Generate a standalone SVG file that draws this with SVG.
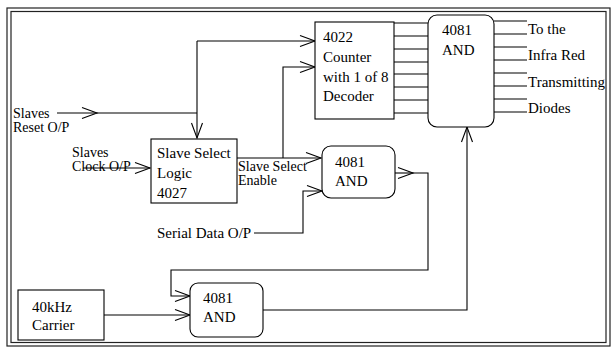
<svg xmlns="http://www.w3.org/2000/svg" width="613" height="348" viewBox="0 0 613 348">
<style>
  .box{fill:#fff;stroke:#000;stroke-width:1.1}
  .ln{fill:none;stroke:#000;stroke-width:1.1}
  .frame{fill:none;stroke:#222;stroke-width:1.2}
  text{font-family:"Liberation Serif","Times New Roman",serif;font-size:15px;fill:#000}
  .sm{font-size:14px}
</style>
<defs>
  <marker id="arr" viewBox="-16 -7 17 14" refX="0" refY="0" markerWidth="17" markerHeight="14" markerUnits="userSpaceOnUse" orient="auto" overflow="visible">
    <path d="M-15,-5.5 L0,0 L-15,5.5" fill="none" stroke="#000" stroke-width="1.1"/>
  </marker>
</defs>
<rect width="613" height="348" fill="#fff"/>
<g id="frame">
  <rect class="frame" x="7" y="8" width="603" height="338"/>
  <rect class="frame" x="11" y="11.5" width="595" height="331"/>
</g>
<g id="connectors">
  <path class="ln" d="M57,113 H97" marker-end="url(#arr)"/>
  <path class="ln" d="M97,113 H197"/>
  <path class="ln" d="M197,41 V138" marker-end="url(#arr)"/>
  <path class="ln" d="M197,41 H315" marker-end="url(#arr)"/>
  <path class="ln" d="M83,168 H150" marker-end="url(#arr)"/>
  <path class="ln" d="M237,158 H321" marker-end="url(#arr)"/>
  <path class="ln" d="M283,158 V67 H315" marker-end="url(#arr)"/>
  <path class="ln" d="M254,233 H303 V191 H322" marker-end="url(#arr)"/>
  <path class="ln" d="M395,173 H413" marker-end="url(#arr)"/>
  <path class="ln" d="M413,173 H428 V270 H171 V296 H190" marker-end="url(#arr)"/>
  <path class="ln" d="M104,315 H190" marker-end="url(#arr)"/>
  <path class="ln" d="M263,310 H467 V127" marker-end="url(#arr)"/>
  <path class="ln" d="M394,23 H428 M394,36 H428 M394,49 H428 M394,62 H428 M394,74 H428 M394,87 H428 M394,100 H428 M394,113 H428"/>
  <path class="ln" d="M494,21 H527 M494,34 H527 M494,47 H527 M494,60 H527 M494,73 H527 M494,86 H527 M494,99 H527 M494,112 H527"/>
</g>
<g id="slave-select-logic">
  <rect class="box" x="151" y="139" width="86" height="64"/>
  <text x="157" y="158">Slave Select</text>
  <text x="157" y="178">Logic</text>
  <text x="157" y="198">4027</text>
</g>
<g id="counter-4022">
  <rect class="box" x="315" y="22" width="79" height="97"/>
  <text x="323" y="42">4022</text>
  <text x="323" y="62">Counter</text>
  <text x="323" y="82">with 1 of 8</text>
  <text x="323" y="101">Decoder</text>
</g>
<g id="and-main">
  <rect class="box" x="428" y="15" width="66" height="112" rx="9"/>
  <text x="442" y="35">4081</text>
  <text x="442" y="55">AND</text>
</g>
<g id="and-enable">
  <rect class="box" x="322" y="146" width="73" height="52" rx="9"/>
  <text x="335" y="167">4081</text>
  <text x="335" y="186">AND</text>
</g>
<g id="and-carrier">
  <rect class="box" x="190" y="283" width="73" height="54" rx="8"/>
  <text x="203" y="303">4081</text>
  <text x="203" y="322">AND</text>
</g>
<g id="carrier">
  <rect class="box" x="18" y="290" width="86" height="50"/>
  <text x="32" y="312">40kHz</text>
  <text x="32" y="330">Carrier</text>
</g>
<g id="labels">
  <text class="sm" x="13" y="118">Slaves</text>
  <text class="sm" x="13" y="132">Reset O/P</text>
  <text class="sm" x="72" y="157">Slaves</text>
  <text class="sm" x="72" y="171">Clock O/P</text>
  <text class="sm" x="238" y="171">Slave Select</text>
  <text class="sm" x="238" y="185">Enable</text>
  <text x="157" y="238">Serial Data O/P</text>
  <text x="528" y="34">To the</text>
  <text x="528" y="60">Infra Red</text>
  <text x="528" y="87">Transmitting</text>
  <text x="528" y="113">Diodes</text>
</g>
</svg>
